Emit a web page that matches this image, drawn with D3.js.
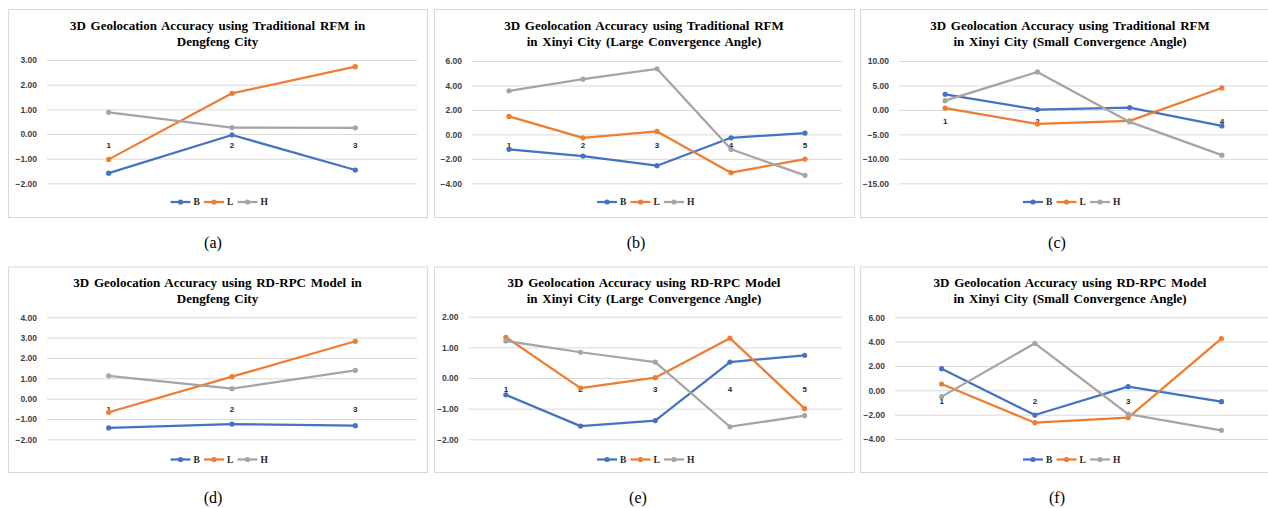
<!DOCTYPE html>
<html>
<head>
<meta charset="utf-8">
<script src="https://cdn.jsdelivr.net/npm/d3@7"></script>
<style>
  html, body { margin: 0; padding: 0; background: #fff; }
  svg { display: block; }
</style>
</head>
<body>
<svg id="chart" width="1268" height="508"></svg>
<script>
// ---------------- DATA ----------------
const seriesNames = ["B", "L", "H"];

const titlesLine1 = [
  "3D Geolocation Accuracy using Traditional RFM in",
  "3D Geolocation Accuracy using Traditional RFM",
  "3D Geolocation Accuracy using Traditional RFM",
  "3D Geolocation Accuracy using RD-RPC Model in",
  "3D Geolocation Accuracy using RD-RPC Model",
  "3D Geolocation Accuracy using RD-RPC Model"
];
const titlesLine2 = [
  "Dengfeng City",
  "in Xinyi City (Large Convergence Angle)",
  "in Xinyi City (Small Convergence Angle)",
  "Dengfeng City",
  "in Xinyi City (Large Convergence Angle)",
  "in Xinyi City (Small Convergence Angle)"
];
const captions = ["(a)", "(b)", "(c)", "(d)", "(e)", "(f)"];

const categories3 = ["1", "2", "3"];
const categories5 = ["1", "2", "3", "4", "5"];
const categories4 = ["1", "2", "3", "4"];

// (a) Traditional RFM, Dengfeng
const aB = [-1.59, -0.04, -1.46];
const aL = [-1.03, 1.65, 2.73];
const aH = [0.88, 0.26, 0.25];
const ticksA = [-2, -1, 0, 1, 2, 3];

// (b) Traditional RFM, Xinyi large angle
const bB = [-1.22, -1.77, -2.56, -0.28, 0.11];
const bL = [1.47, -0.28, 0.24, -3.13, -2.02];
const bH = [3.56, 4.51, 5.36, -1.22, -3.35];
const ticksB = [-4, -2, 0, 2, 4, 6];

// (c) Traditional RFM, Xinyi small angle
const cB = [3.20, 0.07, 0.47, -3.27];
const cL = [0.35, -2.86, -2.24, 4.49];
const cH = [1.90, 7.76, -2.45, -9.25];
const ticksC = [-15, -10, -5, 0, 5, 10];

// (d) RD-RPC, Dengfeng
const dB = [-1.44, -1.25, -1.33];
const dL = [-0.67, 1.08, 2.82];
const dH = [1.12, 0.49, 1.39];
const ticksD = [-2, -1, 0, 1, 2, 3, 4];

// (e) RD-RPC, Xinyi large angle
const eB = [-0.55, -1.57, -1.39, 0.52, 0.74];
const eL = [1.33, -0.33, 0.01, 1.30, -1.00];
const eH = [1.21, 0.84, 0.52, -1.59, -1.23];
const ticksE = [-2, -1, 0, 1, 2];

// (f) RD-RPC, Xinyi small angle
const fB = [1.78, -2.03, 0.30, -0.93];
const fL = [0.52, -2.66, -2.25, 4.24];
const fH = [-0.52, 3.86, -1.95, -3.29];
const ticksF = [-4, -2, 0, 2, 4, 6];

// ---------------- LAYOUT / STYLE ----------------
const colors = { B: "#4472C4", L: "#ED7D31", H: "#A5A5A5" };

const panels = [
  { cats: categories3, series: [aB, aL, aH], ticks: ticksA,
    box: [8, 9, 419, 208], plot: [47, 417, 60, 183.3], row: 0, capX: 213 },
  { cats: categories5, series: [bB, bL, bH], ticks: ticksB,
    box: [434, 9, 420, 208], plot: [472, 842, 61, 183.3], row: 0, capX: 636 },
  { cats: categories4, series: [cB, cL, cH], ticks: ticksC,
    box: [860, 9, 420, 208], plot: [899, 1268, 61, 183.3], row: 0, capX: 1057 },
  { cats: categories3, series: [dB, dL, dH], ticks: ticksD,
    box: [8, 266.5, 419, 205.5], plot: [47, 417, 317.3, 439.3], row: 1, capX: 213 },
  { cats: categories5, series: [eB, eL, eH], ticks: ticksE,
    box: [434, 266.5, 420, 205.5], plot: [468.5, 842, 316.7, 439.3], row: 1, capX: 638 },
  { cats: categories4, series: [fB, fL, fH], ticks: ticksF,
    box: [860, 266.5, 420, 205.5], plot: [895, 1268, 317.3, 439], row: 1, capX: 1057 }
];

const rowTitleY = [29.5, 286.5];
const rowLegendY = [202, 459.5];
const rowCaptionY = [248, 503];

const svg = d3.select("#chart");

panels.forEach((p, i) => {
  const g = svg.append("g");
  const [bx, by, bw, bh] = p.box;
  const [x0, x1, yTop, yBot] = p.plot;

  // chart frame
  g.append("rect")
    .attr("x", bx + 0.5).attr("y", by + 0.5)
    .attr("width", bw).attr("height", bh)
    .attr("fill", "#fff").attr("stroke", "#d9d9d9").attr("stroke-width", 1);

  // title
  const cx = bx + bw / 2;
  const title = g.append("text")
    .attr("text-anchor", "middle")
    .attr("font-family", "'Liberation Serif', 'Times New Roman', serif")
    .attr("font-weight", "bold")
    .attr("font-size", 13)
    .attr("fill", "#000");
  title.append("tspan").attr("x", cx).attr("y", rowTitleY[p.row]).attr("word-spacing", 1.5).text(titlesLine1[i]);
  title.append("tspan").attr("x", cx).attr("y", rowTitleY[p.row] + 16.5).attr("word-spacing", 1.5).text(titlesLine2[i]);

  // scales
  const x = d3.scaleBand().domain(p.cats).range([x0, x1]).padding(0);
  const xc = c => x(c) + x.bandwidth() / 2;
  const y = d3.scaleLinear().domain([d3.min(p.ticks), d3.max(p.ticks)]).range([yBot, yTop]);

  // y axis with gridlines
  const yAxis = d3.axisLeft(y)
    .tickValues(p.ticks)
    .tickFormat(d3.format(".2f"))
    .tickSizeInner(-(x1 - x0))
    .tickSizeOuter(0)
    .tickPadding(10);
  const ya = g.append("g").attr("transform", `translate(${x0},0)`).call(yAxis);
  ya.select(".domain").remove();
  ya.selectAll(".tick line").attr("stroke", "#d9d9d9").attr("stroke-width", 1);
  ya.selectAll(".tick text")
    .attr("font-family", "'Liberation Sans', Arial, sans-serif")
    .attr("font-weight", "bold")
    .attr("font-size", 8.5)
    .attr("fill", "#404040");

  // category axis at zero
  const xAxis = d3.axisBottom(x).tickSize(0).tickPadding(8);
  const xa = g.append("g").attr("transform", `translate(0,${y(0)})`).call(xAxis);
  xa.select(".domain").remove();
  xa.selectAll(".tick text")
    .attr("font-family", "'Liberation Sans', Arial, sans-serif")
    .attr("font-weight", "bold")
    .attr("font-size", 8)
    .attr("fill", "#262626");

  // lines + markers
  const line = d3.line().x((d, k) => xc(p.cats[k])).y(d => y(d));
  p.series.forEach((vals, s) => {
    const col = colors[seriesNames[s]];
    g.append("path")
      .datum(vals)
      .attr("d", line)
      .attr("fill", "none")
      .attr("stroke", col)
      .attr("stroke-width", 2.25)
      .attr("stroke-linejoin", "round")
      .attr("stroke-linecap", "round");
    g.selectAll(null)
      .data(vals)
      .enter().append("circle")
      .attr("cx", (d, k) => xc(p.cats[k]))
      .attr("cy", d => y(d))
      .attr("r", 2.6)
      .attr("fill", col);
  });

  // legend
  const itemW = 33.5;
  const legStart = cx - 47;
  const ly = rowLegendY[p.row];
  seriesNames.forEach((nm, s) => {
    const lx = legStart + s * itemW;
    g.append("line")
      .attr("x1", lx).attr("x2", lx + 20)
      .attr("y1", ly).attr("y2", ly)
      .attr("stroke", colors[nm]).attr("stroke-width", 2.25);
    g.append("circle").attr("cx", lx + 10).attr("cy", ly).attr("r", 2.6).attr("fill", colors[nm]);
    g.append("text")
      .attr("x", lx + 23).attr("y", ly + 3.3)
      .attr("font-family", "'Liberation Serif', 'Times New Roman', serif")
      .attr("font-weight", "bold")
      .attr("font-size", 9.5)
      .attr("fill", "#262626")
      .text(nm);
  });

  // caption
  svg.append("text")
    .attr("x", p.capX).attr("y", rowCaptionY[p.row])
    .attr("text-anchor", "middle")
    .attr("font-family", "'Liberation Serif', 'Times New Roman', serif")
    .attr("font-size", 16)
    .attr("fill", "#000")
    .text(captions[i]);
});
</script>
</body>
</html>
